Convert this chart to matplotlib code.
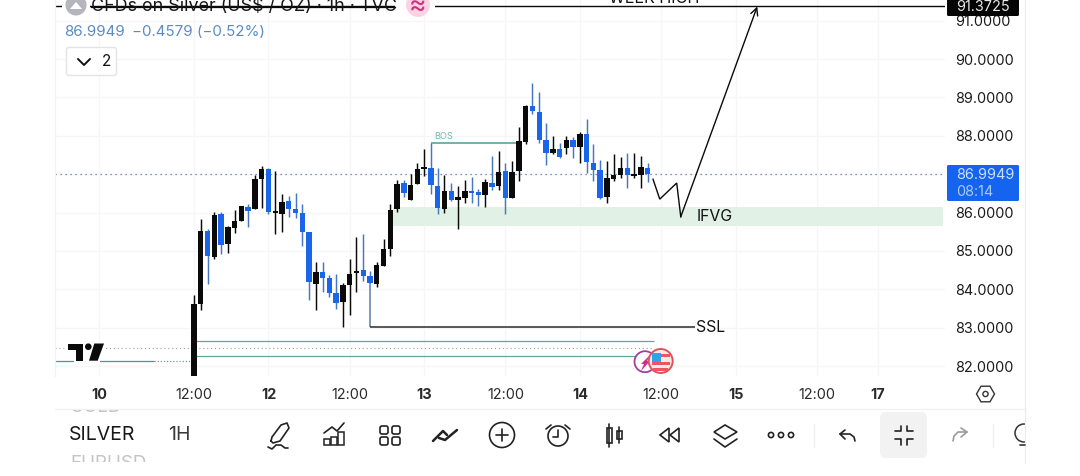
import matplotlib
matplotlib.use('Agg')
import matplotlib.pyplot as plt
from matplotlib.patches import Circle, FancyBboxPatch, Polygon, Rectangle, RegularPolygon

plt.rcParams['font.family'] = ['Inter', 'DejaVu Sans']

# Hourly candles
opens = [81.71, 83.62, 85.52, 84.85, 85.96, 85.17, 85.59, 85.77, 86.14, 86.08,
         86.87, 87.14, 86.00, 85.97, 86.29, 86.10, 86.00, 85.49, 84.15, 84.45,
         84.30, 83.90, 83.66, 84.10, 84.42, 84.50, 84.35, 84.15, 84.62, 85.06,
         86.08, 86.77, 86.32, 86.74, 87.13, 87.16, 86.70, 86.10, 86.57, 86.34,
         86.39, 86.57, 86.53, 86.45, 86.78, 86.69, 87.08, 86.38, 87.08, 87.84,
         88.78, 88.63, 87.88, 87.55, 87.65, 87.69, 87.88, 87.70, 88.06, 87.30,
         87.11, 86.41, 86.87, 86.97, 87.17, 86.95, 86.97, 87.17]
highs = [83.84, 85.84, 85.56, 86.01, 86.01, 85.64, 86.06, 86.17, 86.22, 86.97,
         87.21, 87.15, 87.08, 86.48, 86.43, 86.50, 86.22, 85.49, 84.71, 84.72,
         84.37, 84.41, 84.17, 84.78, 85.35, 85.43, 84.47, 84.70, 85.30, 86.22,
         86.84, 86.84, 87.00, 87.30, 87.65, 87.80, 87.15, 86.97, 86.77, 86.69,
         86.86, 86.93, 86.61, 86.87, 87.48, 87.61, 87.28, 87.34, 88.23, 88.80,
         89.37, 89.15, 88.34, 87.99, 87.80, 88.00, 87.97, 88.09, 88.45, 87.78,
         87.36, 87.34, 87.52, 87.46, 87.56, 87.54, 87.47, 87.30]
lows = [81.71, 83.47, 84.13, 84.79, 84.93, 84.95, 85.47, 85.77, 85.63, 86.08,
        86.13, 85.97, 85.45, 85.49, 85.89, 85.87, 85.14, 83.71, 83.45, 83.92,
        83.80, 83.48, 83.03, 83.33, 83.94, 84.22, 84.16, 84.06, 84.62, 84.88,
        86.01, 86.41, 86.32, 86.74, 86.96, 86.49, 85.95, 85.98, 86.30, 85.58,
        86.24, 86.26, 86.17, 86.14, 86.58, 86.58, 85.96, 86.37, 86.83, 87.79,
        88.58, 87.81, 87.23, 87.53, 87.43, 87.52, 87.41, 87.30, 87.03, 86.82,
        86.35, 86.24, 86.83, 86.91, 86.63, 86.89, 86.64, 86.80]
closes = [83.61, 85.53, 84.87, 85.93, 85.15, 85.62, 85.77, 86.16, 86.05, 86.87,
          87.13, 86.01, 86.03, 86.27, 86.10, 85.98, 85.49, 84.18, 84.45, 84.30,
          83.90, 83.65, 84.10, 84.41, 84.46, 84.34, 84.16, 84.63, 85.05, 86.06,
          86.74, 86.52, 86.72, 87.13, 87.18, 86.71, 86.12, 86.56, 86.32, 86.40,
          86.56, 86.52, 86.47, 86.79, 86.67, 87.07, 86.38, 87.07, 87.87, 88.77,
          88.64, 87.89, 87.56, 87.65, 87.45, 87.88, 87.70, 88.04, 87.32, 87.10,
          86.37, 86.90, 86.97, 87.15, 86.97, 86.99, 87.19, 86.9949]

price_ticks = [82, 83, 84, 85, 86, 87, 88, 89, 90, 91]
time_ticks = [-14, 0, 11, 23, 34, 46, 57, 69, 80, 92, 101]
time_labels = ['10', '12:00', '12', '12:00', '13', '12:00', '14', '12:00', '15', '12:00', '17']

last_price = 86.9949
week_high = 91.3725
bos_price = 87.80
ssl_price = 83.03
ifvg_low, ifvg_high = 85.65, 86.15
path_x = [67.8, 68.8, 71.3, 71.9, 83.2]
path_y = [86.87, 86.35, 86.77, 85.89, 91.37]
teal_upper = 82.66
dotted_lower = 82.46
teal_lower = 82.26
teal_left = 82.13

BLACK = '#0a0a0a'
BLUE = '#1966ea'
WICK_BLUE = '#4478c4'
TEAL = '#5aa99c'
GRID = '#f6f6f7'

fig = plt.figure(figsize=(10.8, 4.76), dpi=100, facecolor='white')
ax = fig.add_axes([55 / 1080, 1 - 376 / 476, 890 / 1080, 376 / 476])
ax.set_xlim(-20.53, 110.93)
ax.set_ylim(81.74, 91.54)
for s in ax.spines.values():
    s.set_visible(False)
ax.set_axisbelow(True)
ax.grid(True, color=GRID, lw=0.9)

ax.yaxis.tick_right()
ax.set_yticks(price_ticks)
ax.set_yticklabels(['%.4f' % p for p in price_ticks], fontsize=10.4, color='#1c1c1c')
ax.set_xticks(time_ticks)
ax.set_xticklabels(time_labels, fontsize=10.4, color='#2a2a2a')
for t, lab in zip(ax.get_xticklabels(), time_labels):
    if ':' not in lab:
        t.set_fontweight('bold')
ax.tick_params(axis='both', length=0)
ax.tick_params(axis='y', pad=7)
ax.tick_params(axis='x', pad=8.5)

# IFVG box goes behind the candles
ax.add_patch(Rectangle((29.4, ifvg_low), 110.6 - 29.4, ifvg_high - ifvg_low,
                       color='#e2f1e5', lw=0, zorder=1))

# candles
idx = list(range(len(opens)))
for i in idx:
    up = closes[i] >= opens[i]
    ax.vlines(i, lows[i], highs[i], color=BLACK if up else WICK_BLUE, lw=1.05, zorder=3)
    ax.bar(i, max(abs(closes[i] - opens[i]), 0.05), bottom=min(opens[i], closes[i]),
           width=0.8, color=BLACK if up else BLUE, lw=0, zorder=4)

# drawings
ax.axhline(last_price, color='#5a6fb5', lw=0.9, ls=(0, (1, 3)), zorder=2)
ax.axhline(week_high, color=BLACK, lw=1.0, zorder=2)
ax.hlines(teal_upper, -0.5, 67.9, color=TEAL, lw=0.9, zorder=2)
ax.hlines(dotted_lower, -20.53, 67.9, color='#8aa5a8', lw=0.8, ls=(0, (1, 2.5)), zorder=2)
ax.hlines(teal_lower, -0.5, 65.1, color=TEAL, lw=0.9, zorder=2)
ax.hlines(teal_left, -20.53, -5.9, color='#3f9c8e', lw=0.9, zorder=2)
ax.hlines(teal_left, -5.9, -0.6, color='#6f9c98', lw=0.9, ls=(0, (1, 1.5)), zorder=2)
ax.hlines(bos_price, 35, 48, color='#4f9c8f', lw=1.1, zorder=2)
ax.text(35.5, bos_price + 0.07, 'BOS', fontsize=6.6, color='#6dbcae', va='bottom', ha='left')
ax.vlines(26, ssl_price, lows[26], color='#5a7ea8', lw=1.1, zorder=2)
ax.hlines(ssl_price, 26, 74.0, color='#2a2a2a', lw=1.1, zorder=2)
ax.text(74.2, ssl_price - 0.02, 'SSL', fontsize=11.4, color='#111111', va='center', ha='left')
ax.text(74.2, 85.89, 'IFVG', fontsize=11.4, color='#111111', va='center', ha='left')
ax.plot(path_x[:-1], path_y[:-1], color=BLACK, lw=1.0, zorder=5, solid_joinstyle='miter')
ax.annotate('', xy=(path_x[-1], path_y[-1]), xytext=(path_x[-2], path_y[-2]), zorder=5,
            arrowprops=dict(arrowstyle='->', color=BLACK, lw=1.0, shrinkA=0, shrinkB=0,
                            mutation_scale=13))

# overlay in pixels for the app chrome
ui = fig.add_axes([0, 0, 1, 1], zorder=10)
ui.set_xlim(0, 1080)
ui.set_ylim(476, 0)
ui.axis('off')
ui.patch.set_alpha(0)


def line(xs, ys, c='#222222', lw=1.2):
    ui.plot(xs, ys, color=c, lw=lw, solid_capstyle='round', solid_joinstyle='round')


ui.text(654, 3, 'WEEK HIGH', fontsize=11.6, color='#111111', ha='center', va='baseline')

# legend, top left, with gaps cut out of the week high line
ui.add_patch(Rectangle((62, 0), 28, 14, color='white', lw=0))
ui.add_patch(Rectangle((395, 0), 40, 14, color='white', lw=0))
ui.add_patch(Circle((76, 5), 10.5, color='#b5b5bd', lw=0))
ui.add_patch(Polygon([[70, 9], [76, 2], [82, 9]], color='white', lw=0))
ui.add_patch(Circle((418, 5), 12, color='#fbd3e2', lw=0))
ui.text(418, 6, '≈', fontsize=19, color='#d0307f', ha='center', va='center')
ui.text(91, 6.5, 'CFDs on Silver (US$ / OZ) · 1h · TVC', fontsize=12.9, color='#161616',
        ha='left', va='center')
ui.plot([91, 395], [6.5, 6.5], color=BLACK, lw=0.9)
ui.text(64.5, 32, '86.9949', fontsize=10.9, color='#5b8bc2', ha='left', va='center')
ui.text(131.5, 32, '−0.4579 (−0.52%)', fontsize=10.9, color='#5b8bc2', ha='left', va='center')
ui.add_patch(FancyBboxPatch((66.5, 47.5), 50, 28, boxstyle='round,pad=0,rounding_size=2.5',
                            fc='white', ec='#e4e4e6', lw=1))
line([78, 84, 90], [59, 65, 59], '#111111', 1.4)
ui.text(107, 62, '2', fontsize=11, color='#111111', ha='center', va='center')

# price labels
ui.add_patch(FancyBboxPatch((947, -3), 72, 19, boxstyle='round,pad=0,rounding_size=1.5',
                            fc='#050505', ec='none'))
ui.text(956, 7, '91.3725', fontsize=10.4, color='#e8e8e8', ha='left', va='center')
ui.add_patch(FancyBboxPatch((947, 165), 72, 36, boxstyle='round,pad=0,rounding_size=1.5',
                            fc='#1464f0', ec='none'))
ui.text(956, 175, '86.9949', fontsize=10.4, color='#cfe0fb', ha='left', va='center')
ui.text(956, 192, '08:14', fontsize=10.4, color='#a9c8f8', ha='left', va='center')

# TradingView mark with its white halo
ui.add_patch(Rectangle((74, 358), 26, 6, color='white', lw=0))
logo = [[[68, 343.5], [83, 343.5], [83, 360.7], [75.7, 360.7], [75.7, 350], [68, 350]],
        [[94.3, 343.5], [104, 343.5], [97.7, 360.7], [89, 360.7]]]
for pts in logo:
    ui.add_patch(Polygon(pts, fc='white', ec='white', lw=2.5))
for pts in logo:
    ui.add_patch(Polygon(pts, color='#0a0a0a', lw=0))
ui.add_patch(Circle((88.3, 346.7), 3.3, color='#0a0a0a', lw=0))

# event badges
ui.add_patch(Circle((645, 361.7), 10.5, fc='white', ec='#a23f9e', lw=1.3))
ui.add_patch(Polygon([[641, 364], [650, 355], [647, 361], [650, 361], [641, 371], [644, 364]],
                     color='#d42a8a', lw=0))
ui.add_patch(Circle((660.7, 361), 12, fc='#fbe9e9', ec='#e2525c', lw=1.4))
ui.add_patch(Rectangle((661, 354), 9, 3, color='#ee5560', lw=0))
ui.add_patch(Rectangle((652, 362), 18, 3, color='#ee5560', lw=0))
ui.add_patch(Rectangle((653, 368), 15, 2.5, color='#ee5560', lw=0))
ui.add_patch(Rectangle((652, 353), 9, 9, color='#2fa5e6', lw=0))

# settings hexagon
ui.add_patch(RegularPolygon((985.5, 394), 6, radius=9, orientation=0.5236, fc='none',
                            ec='#333333', lw=1))
ui.add_patch(Circle((985.5, 394), 2.6, fc='none', ec='#333333', lw=1))

# separators and frame
line([55, 55], [0, 376], '#f2f2f3', 0.9)
line([1025, 1025], [0, 463], '#ececee', 0.9)
line([55, 1025], [409, 409], '#f0f0f1', 0.9)

# symbol strip, neighbours scrolled out of view
clip_top = Rectangle((55, 410), 200, 6, transform=ui.transData)
clip_bot = Rectangle((55, 455), 200, 7, transform=ui.transData)
t1 = ui.text(70, 407, 'GOLD', fontsize=13.5, color='#c4c4c6', ha='left', va='center')
t1.set_clip_on(True)
t1.set_clip_path(clip_top)
t2 = ui.text(70, 463, 'EURUSD', fontsize=13.5, color='#c4c4c6', ha='left', va='center')
t2.set_clip_on(True)
t2.set_clip_path(clip_bot)
ui.text(69, 435, 'SILVER', fontsize=14, color='#171717', ha='left', va='center')
ui.text(168, 435, '1H', fontsize=14, color='#3a3a3a', ha='left', va='center')

# toolbar icons
line([271, 272, 281, 287, 289, 280, 273, 271], [441, 437, 425, 423, 428, 441, 443, 441])
line([268, 272, 276, 281, 285, 288], [447, 449, 445, 445, 448, 448])
line([324, 332, 337, 344], [433, 427, 431, 423])
for x0, h in [(324, 6), (331, 8), (338, 13)]:
    ui.add_patch(Rectangle((x0, 445 - h), 6, h, fc='none', ec='#222222', lw=1.1))
for cx in [384, 396]:
    for cy in [430, 441]:
        ui.add_patch(FancyBboxPatch((cx - 4, cy - 4), 8, 8, boxstyle='round,pad=0,rounding_size=2',
                                    fc='none', ec='#222222', lw=1.2))
line([433, 443, 447], [441, 431, 435], lw=1.8)
line([439, 445, 457], [438, 440, 430], lw=1.8)
ui.add_patch(Circle((502, 435), 12.5, fc='none', ec='#222222', lw=1.2))
line([496, 508], [435, 435])
line([502, 502], [429, 441])
ui.add_patch(Circle((558, 436), 10, fc='none', ec='#222222', lw=1.2))
line([558, 558, 553], [430, 437, 437])
line([546, 551], [429, 425])
line([565, 570], [425, 429])
ui.add_patch(Rectangle((606.5, 428), 5, 15, fc='none', ec='#222222', lw=1.2))
line([609, 609], [424, 447])
ui.add_patch(Rectangle((617, 431), 4.5, 8, fc='none', ec='#222222', lw=1.2))
line([619.3, 619.3], [427, 443])
ui.add_patch(Polygon([[669, 428], [669, 442], [660, 435]], fc='none', ec='#222222', lw=1.2))
ui.add_patch(Polygon([[679, 428], [679, 442], [670, 435]], fc='none', ec='#222222', lw=1.2))
ui.add_patch(Polygon([[714, 432], [725, 425], [737, 432], [725, 439]], fc='none', ec='#222222', lw=1.2))
line([714, 725, 737], [439, 447, 439])
for cx in [771, 781, 791]:
    ui.add_patch(Circle((cx, 435), 2.6, fc='none', ec='#222222', lw=1.2))
line([814, 814], [424, 447], '#eeeeee', 0.9)
line([845, 840, 845], [430, 434, 439])
line([840, 850, 854, 855], [434, 434, 437, 441])
ui.add_patch(FancyBboxPatch((880, 412), 47, 46, boxstyle='round,pad=0,rounding_size=6',
                            fc='#f2f2f3', ec='none'))
line([895, 901, 901], [431, 431, 426])
line([913, 907, 907], [431, 431, 426])
line([895, 901, 901], [439, 439, 445])
line([913, 907, 907], [439, 439, 445])
line([961, 967, 961], [428, 432, 437], '#9a9a9a')
line([967, 958, 954, 953], [432, 432, 436, 441], '#9a9a9a')
line([993, 993], [424, 447], '#eeeeee', 0.9)
ui.add_patch(Circle((1024, 433), 9, fc='none', ec='#333333', lw=1.1))
line([1020, 1025], [445, 445], '#333333')
ui.add_patch(Rectangle((1024.5, 415), 12, 50, color='white', lw=0))

fig.savefig('out.png', dpi=100)
